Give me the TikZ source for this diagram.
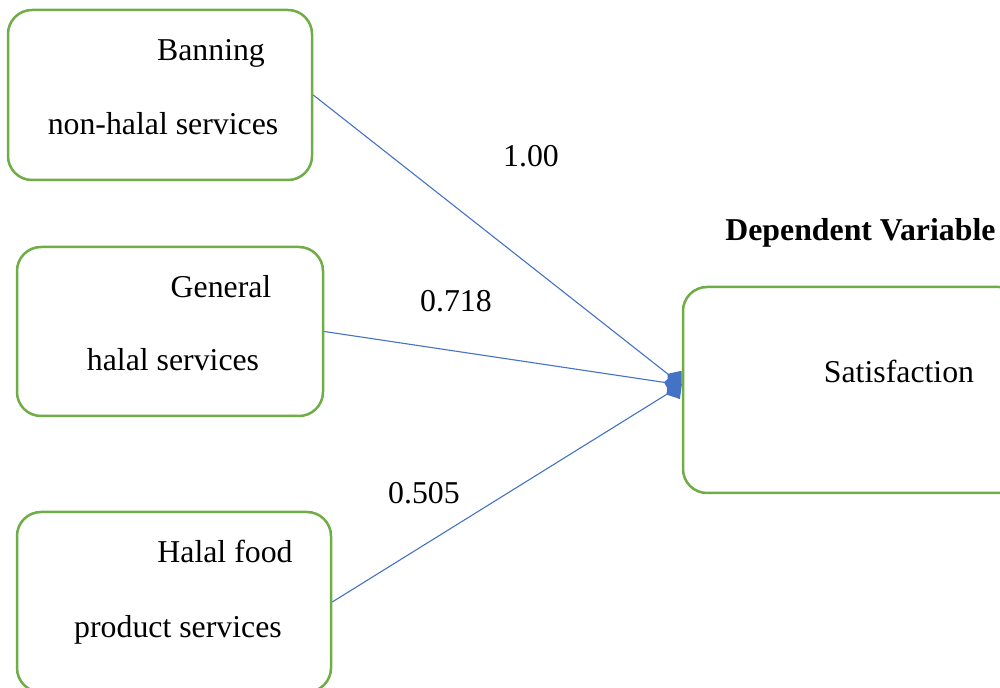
\documentclass[tikz,border=0pt]{standalone}
\usepackage{fontspec}
\setmainfont{Liberation Serif}
\usepackage{tikz}
\usetikzlibrary{positioning, arrows.meta}

\begin{document}
\begin{tikzpicture}[
    x=0.5pt, y=-0.5pt,
    varbox/.style={draw=vargreen, rounded corners=12pt, line width=1.25pt, fill=white},
    txt/.style={font=\fontsize{15.9}{19}\selectfont, inner sep=0pt, anchor=base},
    coef/.style={txt},
    arr/.style={-{Kite[length=9pt, width=11pt, inset=4.5pt]}, line width=0.55pt, draw=arrblue},
]
\definecolor{vargreen}{HTML}{70AD47}
\definecolor{arrblue}{HTML}{4472C4}

\useasboundingbox (0,0) rectangle (1000,688);

% --- Independent variables ---
\node[varbox, minimum width=152pt, minimum height=85pt] (ban) at (160,95) {};
\node[varbox, minimum width=153pt, minimum height=84.5pt] (gen) at (170,331.5) {};
\node[varbox, minimum width=157pt, minimum height=90pt] (food) at (174,602) {};

% --- Dependent variable ---
\node[varbox, minimum width=170pt, minimum height=103pt] (sat) at (853,390) {};

% --- Box texts ---
\node[txt] (banA) at (211,61) {Banning};
\node[txt] (banB) at (163,135) {non-halal services};
\node[txt] (genA) at (221,298) {General};
\node[txt] (genB) at (173,371) {halal services};
\node[txt] (foodA) at (225,563) {Halal food};
\node[txt] (foodB) at (178,637) {product services};
\node[txt] (satA) at (899,383) {Satisfaction};
\node[txt, anchor=base west] (dep) at (725,241) {\bfseries Dependent Variable};

% --- Arrows ---
\draw[arr] (ban.east) -- ([yshift=2.5pt]sat.west);
\draw[arr] (gen.east) -- ([yshift=2.5pt]sat.west);
\draw[arr] (food.east) -- ([yshift=2.5pt]sat.west);

% --- Coefficients ---
\node[coef] (c1) at (531,167) {1.00};
\node[coef] (c2) at (456,312) {0.718};
\node[coef] (c3) at (424,504) {0.505};

\end{tikzpicture}
\end{document}
